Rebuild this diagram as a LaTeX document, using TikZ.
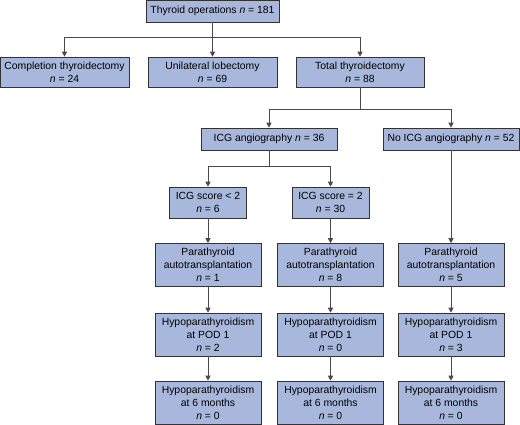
\documentclass[tikz,border=0pt]{standalone}
\usepackage{fontspec}
\setmainfont{Liberation Sans}
\usetikzlibrary{arrows.meta}
\definecolor{boxblue}{HTML}{A8B8DC}
\definecolor{linegray}{HTML}{4A4A4A}

\begin{document}
\begin{tikzpicture}[x=1pt, y=-1pt,
    every node/.style={draw=black!80, fill=boxblue, line width=0.6pt, align=center,
      inner sep=0pt, font=\fontsize{10.4}{13}\selectfont, text=black},
    wide/.style={minimum width=129pt, minimum height=30pt},
    single/.style={minimum width=136pt, minimum height=22pt},
    score/.style={minimum width=77pt, minimum height=31pt},
    stage/.style={minimum width=106pt, minimum height=43pt},
    link/.style={draw=linegray, line width=0.7pt},
    arr/.style={link, -{Triangle[width=5pt,length=5pt]}},
    ]
  \useasboundingbox (0,0) rectangle (520,425);
  \node[single, minimum width=133pt] (ops) at (212.5,11) {Thyroid operations \textit{n} = 181};
  \node[wide] (compl) at (64.5,72) {Completion thyroidectomy\\\textit{n} = 24};
  \node[wide] (lobe) at (212.5,72) {Unilateral lobectomy\\\textit{n} = 69};
  \node[wide, minimum width=128pt] (total) at (360,72) {Total thyroidectomy\\\textit{n} = 88};
  \node[single] (icg) at (269,139) {ICG angiography \textit{n} = 36};
  \node[single] (noicg) at (451,139) {No ICG angiography \textit{n} = 52};
  \node[score] (low) at (208,202.5) {ICG score < 2\\\textit{n} = 6};
  \node[score] (high) at (330.5,202.5) {ICG score = 2\\\textit{n} = 30};
  % parathyroid autotransplantation
  \node[stage] (ptlow) at (208,265) {Parathyroid\\autotransplantation\\\textit{n} = 1};
  \node[stage] (pthigh) at (330.5,265) {Parathyroid\\autotransplantation\\\textit{n} = 8};
  \node[stage] (ptno) at (451,265) {Parathyroid\\autotransplantation\\\textit{n} = 5};
  % hypoparathyroidism at POD 1
  \node[stage] (podlow) at (208,334.5) {Hypoparathyroidism\\at POD 1\\\textit{n} = 2};
  \node[stage] (podhigh) at (330.5,334.5) {Hypoparathyroidism\\at POD 1\\\textit{n} = 0};
  \node[stage] (podno) at (451,334.5) {Hypoparathyroidism\\at POD 1\\\textit{n} = 3};
  % hypoparathyroidism at 6 months
  \node[stage] (sixlow) at (208,402.5) {Hypoparathyroidism\\at 6 months\\\textit{n} = 0};
  \node[stage] (sixhigh) at (330.5,402.5) {Hypoparathyroidism\\at 6 months\\\textit{n} = 0};
  \node[stage] (sixno) at (451,402.5) {Hypoparathyroidism\\at 6 months\\\textit{n} = 0};

  \coordinate (opsjoin) at (212.5,37);
  \coordinate (totaljoin) at (360,109);
  \coordinate (icgjoin) at (269,166);
  \draw[link] (ops) -- (opsjoin);
  \draw[arr] (opsjoin) -| (compl);
  \draw[arr] (opsjoin) -- (lobe);
  \draw[arr] (opsjoin) -| (total);
  \draw[link] (total) -- (totaljoin);
  \draw[arr] (totaljoin) -| (icg);
  \draw[arr] (totaljoin) -| (noicg);
  \draw[link] (icg) -- (icgjoin);
  \draw[arr] (icgjoin) -| (low);
  \draw[arr] (icgjoin) -| (high);
  \draw[arr] (low) -- (ptlow);
  \draw[arr] (high) -- (pthigh);
  \draw[arr] (noicg) -- (ptno);
  \draw[arr] (ptlow) -- (podlow);
  \draw[arr] (pthigh) -- (podhigh);
  \draw[arr] (ptno) -- (podno);
  \draw[arr] (podlow) -- (sixlow);
  \draw[arr] (podhigh) -- (sixhigh);
  \draw[arr] (podno) -- (sixno);
\end{tikzpicture}
\end{document}
